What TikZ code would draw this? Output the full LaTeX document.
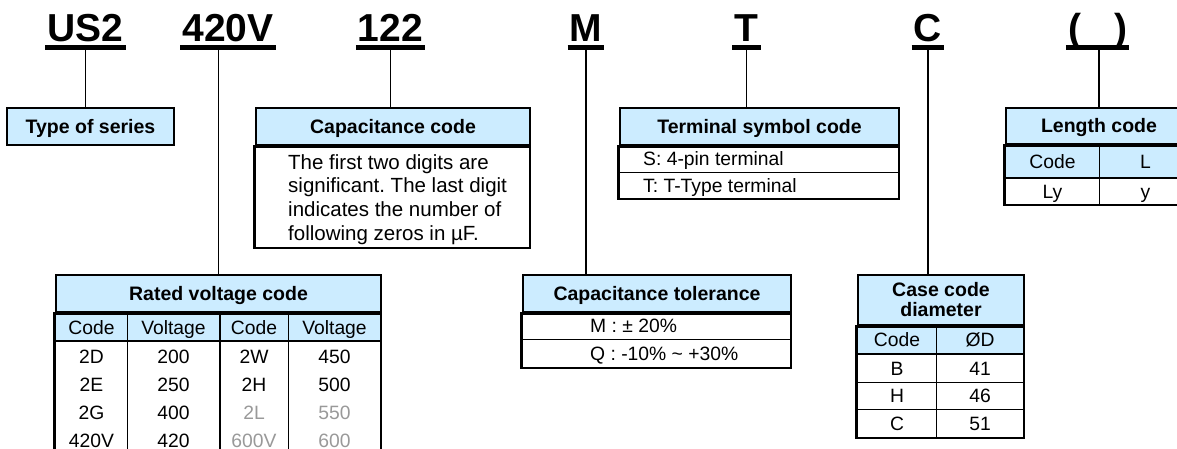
\documentclass[tikz,border=0pt]{standalone}
\usepackage{fontspec}
\setmainfont{Liberation Sans}
\definecolor{hdblue}{HTML}{CCECFF}
\definecolor{dimgray}{HTML}{999999}
\frenchspacing
\begin{document}
\begin{tikzpicture}[x=1pt,y=-1pt,line join=miter,
	partno/.style={font=\fontsize{39}{39}\selectfont\bfseries,anchor=base,text depth=0pt,inner xsep=2pt,inner ysep=5pt},
	uline/.style={line width=5pt},
	link/.style={line width=1.3pt},
	boxline/.style={line width=2.6pt},
	rule/.style={line width=0.9pt},
	ttl/.style={fill=hdblue,draw,boxline,font=\fontsize{19.5}{20}\selectfont\bfseries,text height=18pt,text depth=4pt,inner sep=0pt},
	cell/.style={font=\fontsize{19.3}{22.5}\selectfont,inner sep=0pt,anchor=base}]
	\useasboundingbox (0,0) rectangle (1177,449);
	\clip (0,0) rectangle (1177,449);
	\def\rowh{28} % data rows
	% part number
	\node[partno] (us2) at (85.5,42) {US2};
	\node[partno] (volt) at (228,42) {420V};
	\node[partno] (cap) at (390.5,42) {122};
	\node[partno] (tol) at (586,42) {M};
	\node[partno] (term) at (746.5,42) {T};
	\node[partno] (case) at (928,42) {C};
	\node[partno] (len) at (1097.5,42) {(\hspace{33pt})};
	\foreach \n in {us2,volt,cap,tol,term,case,len}
		\draw[uline] (\n.south west)--(\n.south east);
	% Type of series
	\node[ttl,minimum width=167pt,minimum height=37pt] (series) at (90.5,126.5) {Type of series};
	% Capacitance code
	\node[ttl,minimum width=274pt,minimum height=37pt] (capcode) at (393,126.5) {Capacitance code};
	\draw[boxline] (capcode.south west) rectangle (530,248);
	\node[font=\fontsize{20.5}{23.7}\selectfont,align=left,inner sep=0pt,anchor=north west] (capnote) at (288,154)
		{The first two digits are\\significant. The last digit\\indicates the number of\\following zeros in µF.};
	% Terminal symbol code
	\node[ttl,minimum width=279pt,minimum height=37pt] (termcode) at (759.5,126.5) {Terminal symbol code};
	\draw[boxline] (termcode.south west) rectangle (899,199);
	\draw[rule] (620,172)--(899,172);
	\node[cell,anchor=base west] (term-s) at (643,165.5) {S: 4-pin terminal};
	\node[cell,anchor=base west] (term-t) at (643,192.5) {T: T-Type terminal};
	% Length code
	\node[ttl,minimum width=186pt,minimum height=36pt] (lencode) at (1099,126) {Length code};
	\fill[hdblue] (1006,144) rectangle (1192,178);
	\draw[boxline] (lencode.south west) rectangle (1192,205) (1006,178)--(1192,178);
	\draw[rule] (1099,144)--(1099,205);
	\node[cell] (len-c) at (1052.5,168) {Code};
	\node[cell] (len-l) at (1145.5,168) {L};
	\node[cell] (len-ly) at (1052.5,198.5) {Ly};
	\node[cell] (len-y) at (1145.5,198.5) {y};
	% Rated voltage code
	\node[ttl,minimum width=325pt,minimum height=37pt] (rated) at (218.5,293.5) {Rated voltage code};
	\fill[hdblue] (56,312) rectangle (381,341);
	\draw[boxline] (rated.south west) rectangle (381,470) (56,341)--(381,341) (220,312)--(220,470);
	\draw[rule] (127,312)--(127,470) (288,312)--(288,470);
	\node[cell] (rv-h1) at (91.5,334) {Code};
	\node[cell] (rv-h2) at (173.5,334) {Voltage};
	\node[cell] (rv-h3) at (254,334) {Code};
	\node[cell] (rv-h4) at (334.5,334) {Voltage};
	\foreach \a/\b/\c/\d/\col [count=\i from 0] in {2D/200/2W/450/black,2E/250/2H/500/black,2G/400/2L/550/dimgray,420V/420/600V/600/dimgray}{
		\node[cell] (rv-\i-1) at (91.5,{363+\rowh*\i}) {\a};
		\node[cell] (rv-\i-2) at (173.5,{363+\rowh*\i}) {\b};
		\node[cell,text=\col] (rv-\i-3) at (254,{363+\rowh*\i}) {\c};
		\node[cell,text=\col] (rv-\i-4) at (334.5,{363+\rowh*\i}) {\d};
	}
	% Capacitance tolerance
	\node[ttl,minimum width=268pt,minimum height=37pt] (captol) at (657,293.5) {Capacitance tolerance};
	\draw[boxline] (captol.south west) rectangle (791,368);
	\draw[rule] (523,339)--(791,339);
	\node[cell,anchor=base west] (tol-m) at (590,332.5) {M : ± 20\%};
	\node[cell,anchor=base west] (tol-q) at (590,360.5) {Q : -10\% \textasciitilde\ +30\%};
	% Case code diameter
	\node[ttl,minimum width=166pt,minimum height=50pt,align=center,text height=,text depth=] (casecode) at (941,300) {Case code\\diameter};
	\fill[hdblue] (858,325) rectangle (1024,354);
	\draw[boxline] (casecode.south west) rectangle (1024,438) (858,354)--(1024,354);
	\draw[rule] (858,382)--(1024,382) (858,409)--(1024,409) (936,325)--(936,438);
	\node[cell] (cc-h1) at (897,346.5) {Code};
	\node[cell] (cc-h2) at (980,346.5) {ØD};
	\foreach \a/\b [count=\i from 0] in {B/41,H/46,C/51}{
		\node[cell] (cc-\i-1) at (897,{375+27.5*\i}) {\a};
		\node[cell] (cc-\i-2) at (980,{375+27.5*\i}) {\b};
	}
	% connectors
	\draw[link] (us2.south)--(us2.south |- series.north);
	\draw[link] (rated.north |- volt.south)--(rated.north);
	\draw[link] (cap.south)--(cap.south |- capcode.north);
	\draw[link] (tol.south)--(tol.south |- captol.north);
	\draw[link] (term.south)--(term.south |- termcode.north);
	\draw[link] (case.south)--(case.south |- casecode.north);
	\draw[link] (lencode.north |- len.south)--(lencode.north);
\end{tikzpicture}
\end{document}
